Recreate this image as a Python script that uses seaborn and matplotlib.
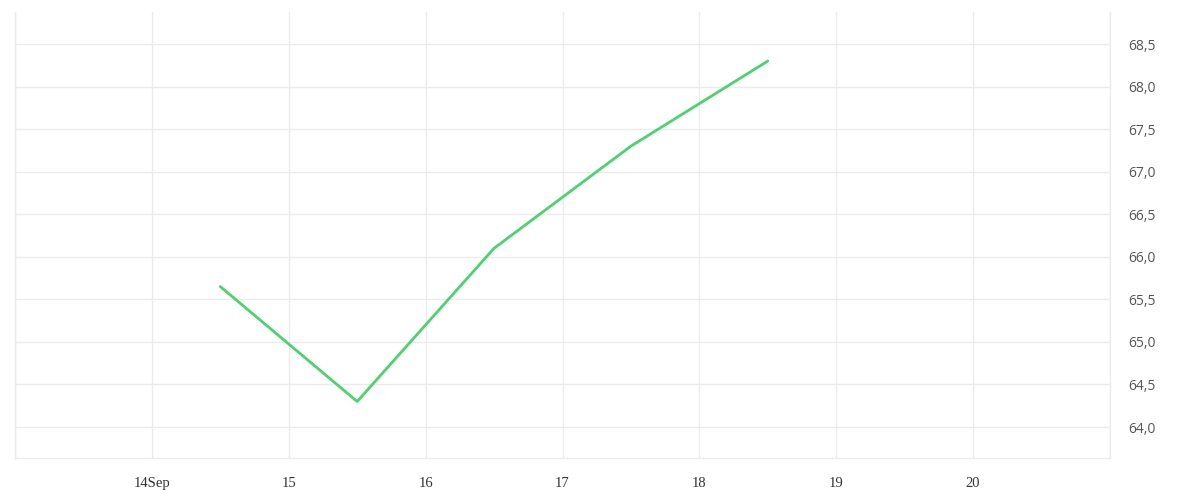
import matplotlib
matplotlib.use("Agg")
import matplotlib.pyplot as plt
import matplotlib.dates as mdates
import matplotlib.ticker as mticker
import seaborn as sns
import pandas as pd

times = ["2023-09-14 12:00", "2023-09-15 12:00", "2023-09-16 12:00",
         "2023-09-17 12:00", "2023-09-18 12:00"]
values = [65.65, 64.30, 66.10, 67.30, 68.30]
tick_days = ["2023-09-13", "2023-09-14", "2023-09-15", "2023-09-16", "2023-09-17",
             "2023-09-18", "2023-09-19", "2023-09-20", "2023-09-21"]
tick_labels = ["", "14Sep", "15", "16", "17", "18", "19", "20", ""]
y_ticks = [64.0, 64.5, 65.0, 65.5, 66.0, 66.5, 67.0, 67.5, 68.0, 68.5]

df = pd.DataFrame({"time": pd.to_datetime(times), "value": values})

sns.set_theme(style="white")
fig = plt.figure(figsize=(12, 5), dpi=100)
ax = fig.add_axes([15/1200, 1 - 458/500, (1110 - 15)/1200, (458 - 12)/500])

sns.lineplot(data=df, x="time", y="value", ax=ax, color="#4cd26f", linewidth=2)

grid_c = "#ebebeb"
tick_pos = mdates.date2num(pd.to_datetime(tick_days))
ax.set_xlim(tick_pos[0], tick_pos[-1])
ax.set_ylim(63.636, 68.876)
ax.xaxis.set_major_locator(mticker.FixedLocator(tick_pos))
ax.xaxis.set_major_formatter(mticker.FixedFormatter(tick_labels))
ax.yaxis.set_major_locator(mticker.FixedLocator(y_ticks))
ax.yaxis.set_major_formatter(mticker.FuncFormatter(lambda v, p: f"{v:.1f}".replace(".", ",")))

ax.yaxis.tick_right()
ax.grid(True, axis="both", color=grid_c, linewidth=1)
ax.set_axisbelow(True)
ax.spines["top"].set_visible(False)
for s in ["bottom", "left", "right"]:
    ax.spines[s].set_color(grid_c)
    ax.spines[s].set_linewidth(1)

ax.tick_params(axis="x", length=7.5, width=1, color=grid_c, pad=6,
               labelsize=10.5, labelcolor="#333333",
               labelfontfamily="Liberation Serif")
ax.tick_params(axis="y", length=0, pad=13, labelsize=10, labelcolor="#555555",
               labelfontfamily="Open Sans")

ax.set_xlabel("")
ax.set_ylabel("")
fig.savefig("out.png", dpi=100, facecolor="white")
